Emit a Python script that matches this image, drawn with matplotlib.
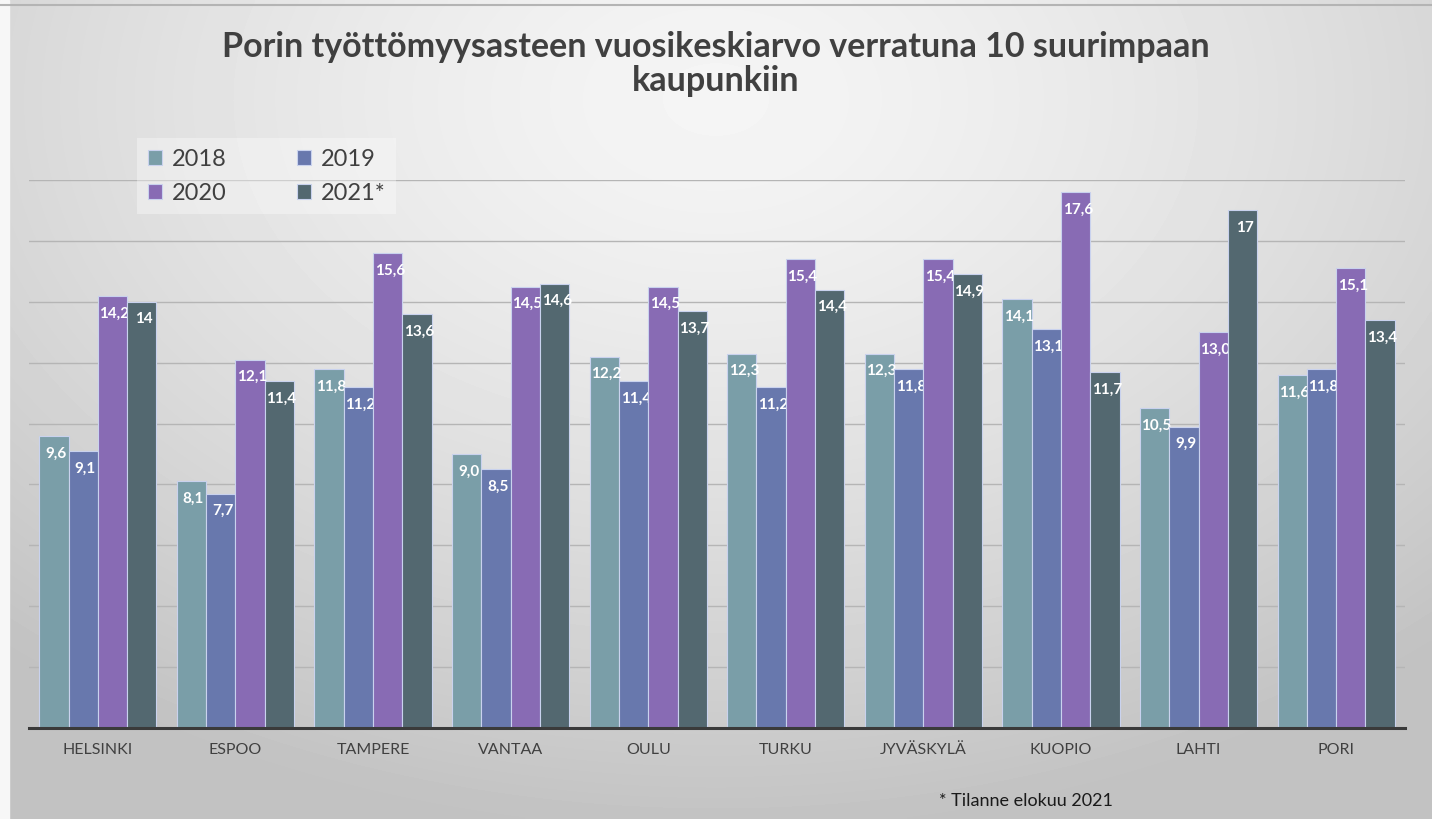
import matplotlib.pyplot as plt
import numpy as np

plt.rcParams['font.family'] = ['Lato', 'DejaVu Sans']

cities = ["HELSINKI", "ESPOO", "TAMPERE", "VANTAA", "OULU",
          "TURKU", "JYVÄSKYLÄ", "KUOPIO", "LAHTI", "PORI"]
years = ["2018", "2019", "2020", "2021*"]
v2018 = [9.6, 8.1, 11.8, 9.0, 12.2, 12.3, 12.3, 14.1, 10.5, 11.6]
v2019 = [9.1, 7.7, 11.2, 8.5, 11.4, 11.2, 11.8, 13.1, 9.9, 11.8]
v2020 = [14.2, 12.1, 15.6, 14.5, 14.5, 15.4, 15.4, 17.6, 13.0, 15.1]
v2021 = [14, 11.4, 13.6, 14.6, 13.7, 14.4, 14.9, 11.7, 17, 13.4]
series = [v2018, v2019, v2020, v2021]
colors = ["#7a9ea8", "#6878ad", "#886bb4", "#536870"]

fig = plt.figure(figsize=(14.32, 8.19), dpi=100)

# slide background: soft radial gradient
bg = fig.add_axes([0, 0, 1, 1], zorder=-10)
gx, gy = np.meshgrid(np.linspace(0, 1, 400), np.linspace(0, 1, 240))
r = np.sqrt(((gx - 0.5) / 0.75) ** 2 + ((gy - 0.12) / 0.9) ** 2)
shade = 0.96 - 0.2 * np.clip(r, 0, 1) ** 1.4
bg.imshow(shade, cmap="gray", vmin=0, vmax=1, extent=[0, 1, 0, 1],
          origin="upper", aspect="auto", interpolation="bilinear")
bg.axvspan(0, 0.006, color="#f7f7f7")
bg.axhline(0.994, color="#b4b4b4", lw=1.5)
bg.set_xlim(0, 1)
bg.set_ylim(0, 1)
bg.axis("off")

ax = fig.add_axes([0.0203, 0.1111, 0.9608, 0.6691])
ax.patch.set_alpha(0)
x = np.arange(len(cities))
w = 0.213
handles = []
for i, vals in enumerate(series):
    pos = x + (i - 1.5) * w
    h = ax.bar(pos, vals, w, color=colors[i], edgecolor="#c9d2ee", linewidth=0.8,
               zorder=3 + 2 * i, label=years[i])
    handles.append(h)
    for p, v in zip(pos, vals):
        txt = f"{v:g}" if i == 3 else f"{v:.1f}"
        ax.text(p + 0.015, v - 0.58, txt.replace(".", ","), ha="center", va="center",
                color="white", fontsize=11, fontweight="bold", zorder=4 + 2 * i)

ax.set_xlim(-0.5, 9.5)
ax.set_ylim(0, 18)
ax.set_yticks(np.arange(0, 19, 2))
ax.yaxis.grid(True, color="#b5b5b5", lw=1)
ax.set_axisbelow(True)
ax.tick_params(axis="y", left=False, labelleft=False)
ax.tick_params(axis="x", length=0, pad=11, labelsize=11.5, labelcolor="#404040")
ax.set_xticks(x)
ax.set_xticklabels(cities)
for s in ["top", "right", "left"]:
    ax.spines[s].set_visible(False)
ax.spines["bottom"].set_color("#3a3a3a")
ax.spines["bottom"].set_linewidth(2.2)
ax.spines["bottom"].set_zorder(20)

# legend rows: 2018 2019 / 2020 2021*
order = [0, 2, 1, 3]
leg = ax.legend([handles[k] for k in order], [years[k] for k in order],
                ncol=2, loc="upper left", bbox_to_anchor=(0.07, 1.098),
                fontsize=17, frameon=True, handlelength=0.6, handleheight=0.6,
                handletextpad=0.4, columnspacing=3.0, labelspacing=0.55,
                borderpad=0.45)
leg.get_frame().set_facecolor("white")
leg.get_frame().set_alpha(0.35)
leg.get_frame().set_edgecolor("none")
leg.get_frame().set_boxstyle("square", pad=0)
for t in leg.get_texts():
    t.set_color("#404040")

fig.text(0.5, 0.922, "Porin työttömyysasteen vuosikeskiarvo verratuna 10 suurimpaan\nkaupunkiin",
         ha="center", va="center", fontsize=24.5, fontweight="bold",
         color="#404040", linespacing=1.1)
fig.text(0.656, 0.016, "* Tilanne elokuu 2021", fontsize=13, color="#1a1a1a")

fig.savefig("out.png", dpi=100)
